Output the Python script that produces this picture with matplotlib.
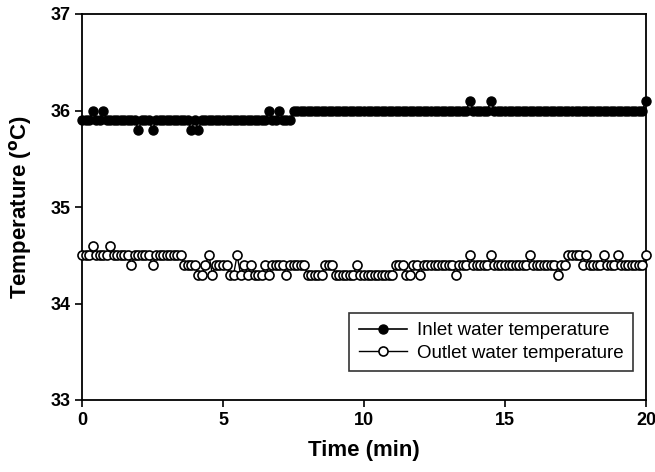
import numpy as np
import matplotlib.pyplot as plt
from matplotlib.ticker import MultipleLocator

plt.rcParams['font.family'] = ['Liberation Sans', 'DejaVu Sans']

# sampling every 7.5 s (0.125 min) over 20 min
interval_min = 0.125

inlet = [
    35.9, 35.9, 35.9, 36.0, 35.9, 35.9, 36.0, 35.9, 35.9, 35.9, 35.9, 35.9, 35.9, 35.9, 35.9, 35.9,
    35.8, 35.9, 35.9, 35.9, 35.8, 35.9, 35.9, 35.9, 35.9, 35.9, 35.9, 35.9, 35.9, 35.9, 35.9, 35.8,
    35.9, 35.8, 35.9, 35.9, 35.9, 35.9, 35.9, 35.9, 35.9, 35.9, 35.9, 35.9, 35.9, 35.9, 35.9, 35.9,
    35.9, 35.9, 35.9, 35.9, 35.9, 36.0, 35.9, 35.9, 36.0, 35.9, 35.9, 35.9, 36.0, 36.0, 36.0, 36.0,
    36.0, 36.0, 36.0, 36.0, 36.0, 36.0, 36.0, 36.0, 36.0, 36.0, 36.0, 36.0, 36.0, 36.0, 36.0, 36.0,
    36.0, 36.0, 36.0, 36.0, 36.0, 36.0, 36.0, 36.0, 36.0, 36.0, 36.0, 36.0, 36.0, 36.0, 36.0, 36.0,
    36.0, 36.0, 36.0, 36.0, 36.0, 36.0, 36.0, 36.0, 36.0, 36.0, 36.0, 36.0, 36.0, 36.0, 36.1, 36.0,
    36.0, 36.0, 36.0, 36.0, 36.1, 36.0, 36.0, 36.0, 36.0, 36.0, 36.0, 36.0, 36.0, 36.0, 36.0, 36.0,
    36.0, 36.0, 36.0, 36.0, 36.0, 36.0, 36.0, 36.0, 36.0, 36.0, 36.0, 36.0, 36.0, 36.0, 36.0, 36.0,
    36.0, 36.0, 36.0, 36.0, 36.0, 36.0, 36.0, 36.0, 36.0, 36.0, 36.0, 36.0, 36.0, 36.0, 36.0, 36.0,
    36.1,
]

outlet = [
    34.5, 34.5, 34.5, 34.6, 34.5, 34.5, 34.5, 34.5, 34.6, 34.5, 34.5, 34.5, 34.5, 34.5, 34.4, 34.5,
    34.5, 34.5, 34.5, 34.5, 34.4, 34.5, 34.5, 34.5, 34.5, 34.5, 34.5, 34.5, 34.5, 34.4, 34.4, 34.4,
    34.4, 34.3, 34.3, 34.4, 34.5, 34.3, 34.4, 34.4, 34.4, 34.4, 34.3, 34.3, 34.5, 34.3, 34.4, 34.3,
    34.4, 34.3, 34.3, 34.3, 34.4, 34.3, 34.4, 34.4, 34.4, 34.4, 34.3, 34.4, 34.4, 34.4, 34.4, 34.4,
    34.3, 34.3, 34.3, 34.3, 34.3, 34.4, 34.4, 34.4, 34.3, 34.3, 34.3, 34.3, 34.3, 34.3, 34.4, 34.3,
    34.3, 34.3, 34.3, 34.3, 34.3, 34.3, 34.3, 34.3, 34.3, 34.4, 34.4, 34.4, 34.3, 34.3, 34.4, 34.4,
    34.3, 34.4, 34.4, 34.4, 34.4, 34.4, 34.4, 34.4, 34.4, 34.4, 34.3, 34.4, 34.4, 34.4, 34.5, 34.4,
    34.4, 34.4, 34.4, 34.4, 34.5, 34.4, 34.4, 34.4, 34.4, 34.4, 34.4, 34.4, 34.4, 34.4, 34.4, 34.5,
    34.4, 34.4, 34.4, 34.4, 34.4, 34.4, 34.4, 34.3, 34.4, 34.4, 34.5, 34.5, 34.5, 34.5, 34.4, 34.5,
    34.4, 34.4, 34.4, 34.4, 34.5, 34.4, 34.4, 34.4, 34.5, 34.4, 34.4, 34.4, 34.4, 34.4, 34.4, 34.4,
    34.5,
]

time = np.arange(len(inlet)) * interval_min

fig = plt.figure(figsize=(6.55, 4.72), dpi=100)
ax = fig.add_axes([82 / 655, 72 / 472, 564 / 655, 386 / 472])

ax.plot(time, inlet, '-o', color='black', lw=1.2, ms=6.5, clip_on=False, zorder=3,
        mfc='black', mec='black', label='Inlet water temperature')
ax.plot(time, outlet, '-o', color='black', lw=1.0, ms=6.5, clip_on=False, zorder=3,
        mfc='white', mec='black', mew=1.2, label='Outlet water temperature')

ax.set_xlim(0, 20)
ax.set_ylim(33, 37)
ax.xaxis.set_major_locator(MultipleLocator(5))
ax.yaxis.set_major_locator(MultipleLocator(1))
ax.tick_params(direction='out', length=5, width=1.2, labelsize=13)
for lab in ax.get_xticklabels() + ax.get_yticklabels():
    lab.set_fontweight('bold')
for s in ax.spines.values():
    s.set_linewidth(1.3)

ax.set_xlabel('Time (min)', fontsize=16, fontweight='bold', labelpad=8)
ax.set_ylabel('Temperature ($^{\\mathbf{o}}$C)', fontsize=16, fontweight='bold', labelpad=12)

leg = ax.legend(loc='lower right', bbox_to_anchor=(0.993, 0.05), fontsize=13.5,
                frameon=True, fancybox=False, edgecolor='black',
                handlelength=2.6, handletextpad=0.5, borderpad=0.5, labelspacing=0.3)
leg.get_frame().set_linewidth(1.2)

fig.savefig('out.png', dpi=100)
